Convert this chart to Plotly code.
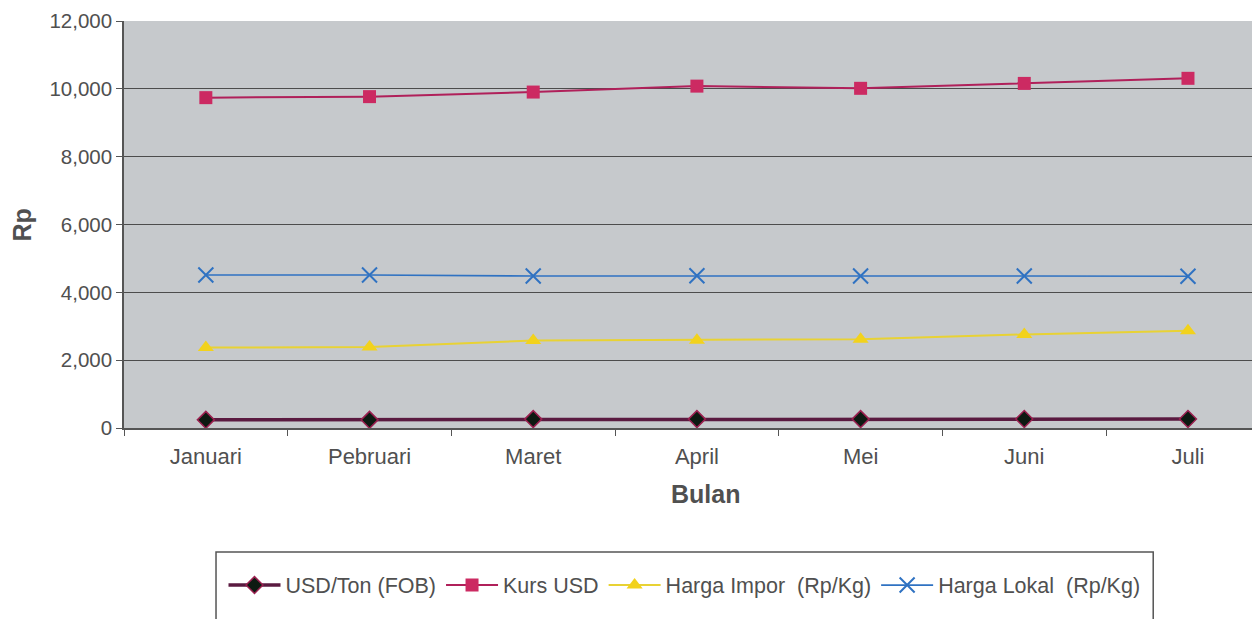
import plotly.graph_objects as go

months = ["Januari", "Pebruari", "Maret", "April", "Mei", "Juni", "Juli"]
usd_ton = [240, 240, 262, 262, 262, 265, 265]
kurs_usd = [9740, 9770, 9905, 10080, 10015, 10160, 10310]
harga_impor = [2370, 2385, 2580, 2590, 2620, 2760, 2870]
harga_lokal = [4510, 4510, 4480, 4490, 4480, 4480, 4475]
y_ticks = [0, 2000, 4000, 6000, 8000, 10000, 12000]

FONT = "Liberation Sans, Arial, sans-serif"
GREY = "#505050"

fig = go.Figure()

fig.add_trace(go.Scatter(
    x=months, y=usd_ton, name="USD/Ton (FOB)", mode="lines+markers",
    line=dict(color="#5a1a40", width=3.5),
    marker=dict(symbol="diamond", size=13, color="#0d1a12",
                line=dict(color="#9b2050", width=1.5)),
))
fig.add_trace(go.Scatter(
    x=months, y=kurs_usd, name="Kurs USD", mode="lines+markers",
    line=dict(color="#b0205a", width=2),
    marker=dict(symbol="square", size=13, color="#cc2a62",
                line=dict(color="#cc2a62", width=0)),
))
fig.add_trace(go.Scatter(
    x=months, y=harga_impor, name="Harga Impor  (Rp/Kg)", mode="lines+markers",
    line=dict(color="#e8d234", width=2),
    marker=dict(symbol="triangle-up", size=14, color="#f2d21c",
                line=dict(color="#f2d21c", width=0)),
))
fig.add_trace(go.Scatter(
    x=months, y=harga_lokal, name="Harga Lokal  (Rp/Kg)", mode="lines+markers",
    line=dict(color="#2f72c2", width=1.6),
    marker=dict(symbol="x-thin-open", size=15,
                line=dict(color="#2f62b8", width=2)),
))

fig.update_layout(
    width=1252, height=619,
    margin=dict(l=116, r=0, t=13, b=199, autoexpand=False),
    paper_bgcolor="white",
    plot_bgcolor="#c6c9cc",
    font=dict(family=FONT, color=GREY, size=20),
    showlegend=True,
    legend=dict(
        orientation="h", x=0.4934, y=-0.386, xanchor="center", yanchor="middle",
        font=dict(size=21.5, color=GREY), bgcolor="rgba(0,0,0,0)",
        itemwidth=52, traceorder="normal",
    ),
    xaxis=dict(
        type="category", categoryorder="array", categoryarray=months,
        range=[-0.5, 6.44],
        showgrid=False, zeroline=False,
        showline=True, linecolor="#555555", linewidth=1.5,
        ticks="outside", ticklen=6, tickcolor="#555555",
        tickson="boundaries", ticklabelstandoff=8,
        tickfont=dict(size=22, color=GREY),
    ),
    yaxis=dict(
        range=[0, 12000], tickvals=y_ticks, tickformat=",",
        showgrid=True, gridcolor="#4c4c4c", gridwidth=1.3,
        zeroline=False,
        showline=True, linecolor="#555555", linewidth=1.5,
        ticks="outside", ticklen=6, tickcolor="#555555",
        tickfont=dict(size=20.5, color=GREY),
    ),
    annotations=[
        dict(text="<b>Bulan</b>", xref="paper", yref="paper",
             x=0.512, y=-0.162, showarrow=False,
             font=dict(size=25, color=GREY), xanchor="center", yanchor="middle"),
        dict(text="<b>Rp</b>", xref="paper", yref="paper",
             x=-0.0898, y=0.5, textangle=-90, showarrow=False,
             font=dict(size=25, color=GREY), xanchor="center", yanchor="middle"),
    ],
    shapes=[
        dict(type="rect", xref="paper", yref="paper",
             x0=0.081, x1=0.906, y0=-0.5, y1=-0.3047,
             line=dict(color="#555555", width=1.5), fillcolor="rgba(0,0,0,0)",
             layer="below"),
    ],
)

fig.write_html("out.html")
